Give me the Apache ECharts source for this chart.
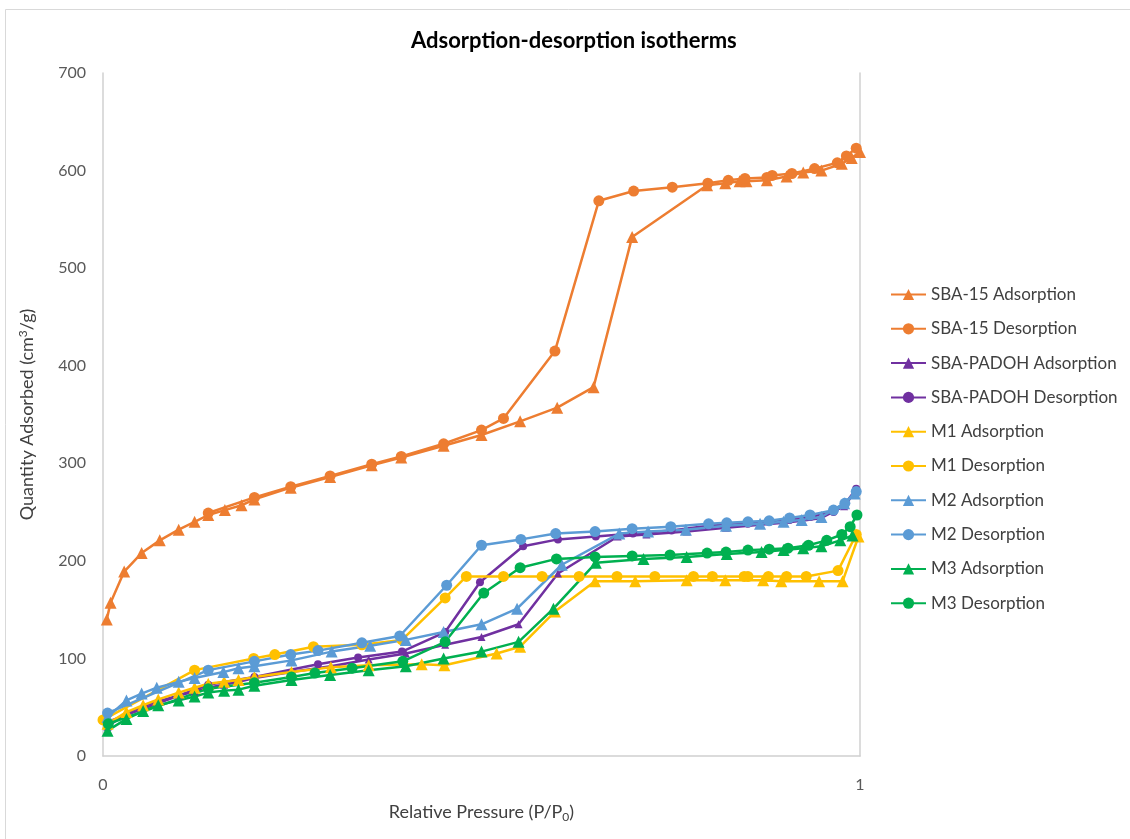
<!DOCTYPE html>
<html>
<head>
<meta charset="utf-8">
<script src="https://cdn.jsdelivr.net/npm/echarts@6/dist/echarts.min.js"></script>
<style>
  html, body { margin: 0; padding: 0; background: #fff; }
  #chart { width: 1130px; height: 839px; }
</style>
</head>
<body>
<div id="chart"></div>
<script>
// [P/P0, quantity] pairs
var sba15Ads = [[0.005,140],[0.010,157],[0.028,189],[0.051,208],[0.075,221],[0.100,232],[0.121,240],[0.139,247],[0.161,252],[0.183,257],[0.200,263],[0.248,275],[0.300,286],[0.355,298],[0.394,306],[0.450,318],[0.500,329],[0.551,343],[0.600,357],[0.648,378],[0.699,532],[0.798,585],[0.822,587],[0.841,589],[0.850,589],[0.877,590],[0.903,594],[0.925,598],[0.949,600],[0.976,607],[0.989,613],[1.0,619]];
var sba15Des = [[0.995,623],[0.982,615],[0.970,608],[0.940,602],[0.910,597],[0.884,595],[0.877,593],[0.848,592],[0.826,590],[0.799,587],[0.752,583],[0.701,579],[0.655,569],[0.597,415],[0.529,346],[0.500,334],[0.450,320],[0.394,307],[0.355,299],[0.300,287],[0.248,276],[0.200,265],[0.139,249]];
var padohAds = [[0.006,30],[0.031,44],[0.053,51],[0.073,56],[0.100,62],[0.121,66],[0.139,70],[0.160,73],[0.179,76],[0.200,80],[0.249,86],[0.301,92],[0.351,99],[0.400,105],[0.452,114],[0.500,122],[0.549,135],[0.601,187],[0.680,225],[0.718,227],[0.771,230],[0.823,234],[0.868,237],[0.899,239],[0.923,241],[0.949,244],[0.979,256],[0.995,272]];
var padohDes = [[0.995,274],[0.980,258],[0.965,250],[0.934,245],[0.907,242],[0.880,240],[0.852,238],[0.824,237],[0.800,236],[0.751,231],[0.700,228],[0.651,225],[0.601,222],[0.555,215],[0.498,178],[0.452,127],[0.395,107],[0.337,101],[0.284,94],[0.200,81],[0.139,73],[0.006,35]];
var m1Ads = [[0.006,33],[0.031,45],[0.053,52],[0.073,58],[0.100,65],[0.121,70],[0.139,74],[0.160,76],[0.179,78],[0.200,81],[0.249,86],[0.301,91],[0.351,93],[0.421,94],[0.451,93],[0.520,105],[0.551,112],[0.597,148],[0.650,179],[0.703,179],[0.771,180],[0.822,180],[0.872,180],[0.896,179],[0.946,179],[0.977,179],[0.998,225]];
var m1Des = [[0.995,227],[0.971,190],[0.929,184],[0.903,184],[0.879,184],[0.852,184],[0.847,184],[0.805,184],[0.780,184],[0.729,184],[0.679,184],[0.629,184],[0.580,184],[0.529,184],[0.480,184],[0.452,162],[0.395,119],[0.342,114],[0.278,112],[0.227,104],[0.199,100],[0.121,88],[0.0,37]];
var m2Ads = [[0.006,40],[0.031,57],[0.051,64],[0.071,70],[0.100,76],[0.121,80],[0.159,86],[0.179,90],[0.200,92],[0.249,98],[0.302,107],[0.353,113],[0.400,119],[0.450,127],[0.500,135],[0.547,151],[0.606,196],[0.682,228],[0.720,230],[0.770,232],[0.823,236],[0.868,238],[0.899,240],[0.923,242],[0.949,245],[0.979,259],[0.993,269]];
var m2Des = [[0.995,271],[0.980,259],[0.965,252],[0.934,247],[0.907,244],[0.880,241],[0.852,240],[0.824,239],[0.800,238],[0.750,235],[0.699,233],[0.650,230],[0.598,228],[0.552,222],[0.500,216],[0.454,175],[0.392,123],[0.342,116],[0.284,108],[0.248,104],[0.200,97],[0.139,88],[0.006,44]];
var m3Ads = [[0.006,26],[0.031,38],[0.053,46],[0.073,52],[0.100,57],[0.121,61],[0.139,65],[0.160,67],[0.179,68],[0.200,72],[0.249,78],[0.300,83],[0.351,88],[0.400,92],[0.450,100],[0.500,107],[0.549,117],[0.595,151],[0.651,198],[0.714,202],[0.771,204],[0.824,207],[0.870,209],[0.899,211],[0.925,213],[0.949,215],[0.974,221],[0.990,226]];
var m3Des = [[0.996,247],[0.987,235],[0.976,227],[0.956,221],[0.932,216],[0.905,213],[0.880,212],[0.852,211],[0.823,209],[0.798,208],[0.749,206],[0.699,205],[0.650,204],[0.599,202],[0.551,193],[0.503,167],[0.452,117],[0.396,97],[0.329,90],[0.280,85],[0.249,81],[0.200,75],[0.139,69],[0.007,33]];

var seriesNames = ['SBA-15 Adsorption','SBA-15 Desorption','SBA-PADOH Adsorption','SBA-PADOH Desorption','M1 Adsorption','M1 Desorption','M2 Adsorption','M2 Desorption','M3 Adsorption','M3 Desorption'];
var seriesData = [sba15Ads, sba15Des, padohAds, padohDes, m1Ads, m1Des, m2Ads, m2Des, m3Ads, m3Des];
var colors = ['#ED7D31','#ED7D31','#7030A0','#7030A0','#FFC000','#FFC000','#5B9BD5','#5B9BD5','#00B050','#00B050'];

var font = 'Lato, "Open Sans", sans-serif';

var series = seriesNames.map(function (name, i) {
    var isAds = i % 2 === 0;
    var small = (i === 2 || i === 3);
    return {
        name: name,
        type: 'line',
        data: seriesData[i],
        symbol: isAds ? 'triangle' : 'circle',
        symbolSize: small ? 8 : (isAds ? 12 : 11),
        showSymbol: true,
        lineStyle: { width: 2.5, color: colors[i] },
        itemStyle: { color: colors[i] },
        animation: false
    };
});

var chart = echarts.init(document.getElementById('chart'));
chart.setOption({
    backgroundColor: '#fff',
    title: {
        text: 'Adsorption-desorption isotherms',
        left: 406,
        top: 25,
        textStyle: { fontFamily: font, fontSize: 22, fontWeight: 'bold', color: '#000' }
    },
    graphic: [{
        type: 'rect',
        silent: true,
        shape: { x: 5.5, y: 9.5, width: 1300, height: 1000 },
        style: { fill: 'none', stroke: '#D9D9D9', lineWidth: 1 }
    }],
    color: colors,
    grid: { left: 103, right: 270, top: 73, bottom: 83 },
    legend: {
        orient: 'vertical',
        left: 885,
        top: 281,
        itemWidth: 35,
        itemHeight: 14,
        itemGap: 17.3,
        textStyle: { fontFamily: font, fontSize: 17, color: '#404040' },
        data: seriesNames
    },
    xAxis: {
        type: 'value',
        min: 0,
        max: 1,
        interval: 1,
        name: 'Relative Pressure (P/P{sub|0})',
        nameLocation: 'middle',
        nameGap: 46,
        nameTextStyle: {
            fontFamily: font, fontSize: 18, color: '#404040',
            rich: { sub: { fontFamily: font, fontSize: 12, color: '#404040', verticalAlign: 'bottom', padding: [9, 0, 0, 0] } }
        },
        axisLine: { show: true, lineStyle: { color: '#D0D0D0', width: 1.5 } },
        axisTick: { show: false },
        splitLine: { show: false },
        axisLabel: { margin: 21, fontFamily: font, fontSize: 16, color: '#595959' }
    },
    yAxis: [{
        type: 'value',
        min: 0,
        max: 700,
        interval: 100,
        name: 'Quantity Adsorbed (cm{sup|3}/g)',
        nameLocation: 'middle',
        nameGap: 65,
        nameTextStyle: {
            fontFamily: font, fontSize: 18, color: '#404040',
            rich: { sup: { fontFamily: font, fontSize: 12, color: '#404040', verticalAlign: 'top', padding: [0, 0, 9, 0] } }
        },
        axisLine: { show: true, lineStyle: { color: '#D0D0D0', width: 1.5 } },
        axisTick: { show: false },
        splitLine: { show: false },
        axisLabel: { margin: 17, fontFamily: font, fontSize: 16, color: '#595959' }
    }, {
        type: 'value',
        position: 'right',
        min: 0,
        max: 700,
        interval: 100,
        axisLine: { show: true, lineStyle: { color: '#D0D0D0', width: 1.5 } },
        axisTick: { show: false },
        axisLabel: { show: false },
        splitLine: { show: false }
    }],
    series: series
});
</script>
</body>
</html>
